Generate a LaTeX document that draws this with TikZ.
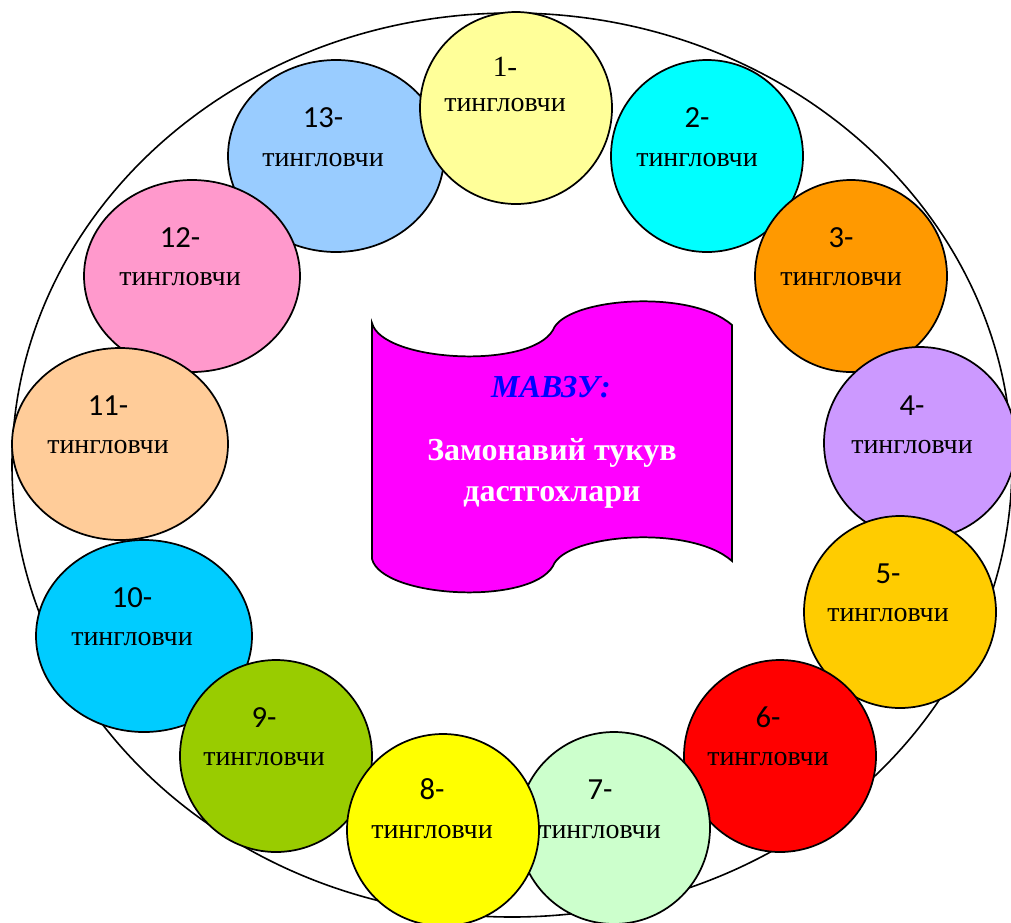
\documentclass[tikz,border=0pt]{standalone}
\usepackage{fontspec}
\setmainfont{Liberation Serif}
\newfontfamily\calfont{Carlito}
\usetikzlibrary{shapes.geometric}
\definecolor{cA}{HTML}{FFFF99}
\definecolor{cB}{HTML}{00FFFF}
\definecolor{cC}{HTML}{FF9900}
\definecolor{cD}{HTML}{CC99FF}
\definecolor{cE}{HTML}{FFCC00}
\definecolor{cF}{HTML}{FF0000}
\definecolor{cG}{HTML}{CCFFCC}
\definecolor{cH}{HTML}{FFFF00}
\definecolor{cI}{HTML}{99CC00}
\definecolor{cJ}{HTML}{00CCFF}
\definecolor{cK}{HTML}{FFCC99}
\definecolor{cL}{HTML}{FF99CC}
\definecolor{cM}{HTML}{99CCFF}
\definecolor{flagpink}{HTML}{FF00FF}
\definecolor{titleblue}{HTML}{0000FF}
\begin{document}
\begin{tikzpicture}[x=0.75pt,y=-0.75pt,
  ring/.style={draw=black,line width=1.3pt,circle,minimum size=144pt,inner sep=0pt},
  oval/.style={draw=black,line width=1.3pt,ellipse,minimum width=162pt,minimum height=144pt,inner sep=0pt},
  numtxt/.style={anchor=base,inner sep=0pt,font=\calfont\fontsize{23}{26}\selectfont},
  numser/.style={anchor=base,inner sep=0pt,font=\fontsize{22}{24}\selectfont},
  wordtxt/.style={anchor=base,inner sep=0pt,font=\fontsize{21}{24}\selectfont}]
\useasboundingbox (0,0) rectangle (1011,922);
% big outer ellipse
\node[draw=black,line width=1.2pt,ellipse,minimum width=750pt,minimum height=678pt,inner sep=0pt] (outer) at (512,465) {};
% banner
\draw[line width=1.3pt,fill=flagpink] (372,323) .. controls (382,362) and (530,370) .. (553,330)
  .. controls (565,298) and (690,288) .. (732,325) -- (732,561)
  .. controls (690,524) and (565,534) .. (553,566)
  .. controls (530,606) and (382,598) .. (372,559) -- cycle;
\node[inner sep=0pt,text=titleblue,font=\bfseries\itshape\fontsize{24}{26}\selectfont] (mavzu) at (551,387) {МАВЗУ:};
\node[inner sep=0pt,text=white,font=\bfseries\fontsize{24}{28}\selectfont] (t1) at (552,453) {Замонавий тукув};
\node[inner sep=0pt,text=white,font=\bfseries\fontsize{24}{28}\selectfont] (t2) at (552,497) {дастгохлари};
% circles (drawing order for overlaps)
\node[oval,fill=cM] (c13) at (336,156) {};
\node[oval,fill=cL] (c12) at (192,276) {};
\node[oval,fill=cK] (c11) at (120,444) {};
\node[oval,fill=cJ] (c10) at (144,636) {};
\node[ring,fill=cI] (c9) at (276,756) {};
\node[ring,fill=cA] (c1) at (516,108) {};
\node[ring,fill=cB] (c2) at (707,156) {};
\node[ring,fill=cC] (c3) at (851,276) {};
\node[ring,fill=cD] (c4) at (920,443) {};
\node[ring,fill=cE] (c5) at (900,612) {};
\node[ring,fill=cF] (c6) at (780,756) {};
\node[ring,fill=cG] (c7) at (614,828) {};
\node[ring,fill=cH] (c8) at (443,830) {};
% labels
\node[numser] (n1) at (505,76) {1-};
\node[wordtxt] (w1) at (505,111) {тингловчи};
\node[numtxt] (n2) at (697,127) {2-};
\node[wordtxt] (w2) at (697,166) {тингловчи};
\node[numtxt] (n3) at (841,247) {3-};
\node[wordtxt] (w3) at (841,285) {тингловчи};
\node[numtxt] (n4) at (912,415) {4-};
\node[wordtxt] (w4) at (912,453) {тингловчи};
\node[numtxt] (n5) at (888,583) {5-};
\node[wordtxt] (w5) at (888,621) {тингловчи};
\node[numtxt] (n6) at (768,727) {6-};
\node[wordtxt] (w6) at (768,765) {тингловчи};
\node[numtxt] (n7) at (600,799) {7-};
\node[wordtxt] (w7) at (600,838) {тингловчи};
\node[numtxt] (n8) at (432,799) {8-};
\node[wordtxt] (w8) at (432,838) {тингловчи};
\node[numtxt] (n9) at (264,727) {9-};
\node[wordtxt] (w9) at (264,765) {тингловчи};
\node[numtxt] (n10) at (132,607) {10-};
\node[wordtxt] (w10) at (132,645) {тингловчи};
\node[numtxt] (n11) at (108,415) {11-};
\node[wordtxt] (w11) at (108,453) {тингловчи};
\node[numtxt] (n12) at (180,247) {12-};
\node[wordtxt] (w12) at (180,285) {тингловчи};
\node[numtxt] (n13) at (323,127) {13-};
\node[wordtxt] (w13) at (323,166) {тингловчи};
\end{tikzpicture}
\end{document}
